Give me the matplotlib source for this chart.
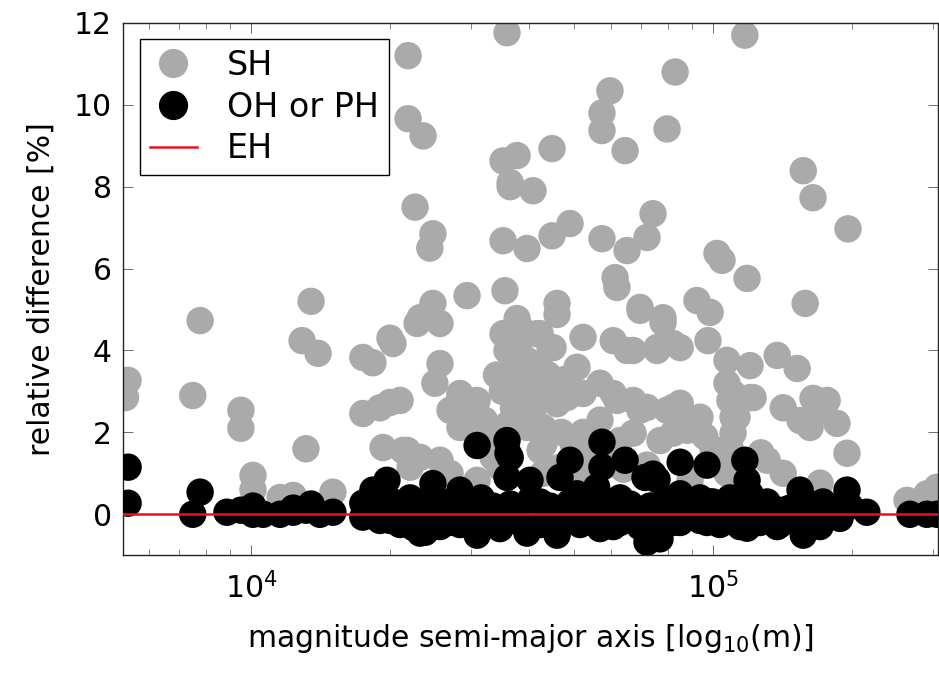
import matplotlib
matplotlib.use("Agg")
import matplotlib.pyplot as plt
from matplotlib.ticker import LogLocator, NullFormatter, MultipleLocator
from matplotlib.lines import Line2D

# SH (grey) points: semi-major axis [m], relative difference [%]
sh_x = [5420, 5350, 7480, 7760, 9510, 9510, 10100, 10100, 13490, 12900,
        13970, 13150, 11560, 12340, 15040, 17460, 18360, 19990, 20290, 17460,
        19010, 19990, 19310, 21330, 22100, 22650, 24760, 24380, 22880, 24760,
        25650, 29350, 25650, 25000, 28330, 30860, 35120, 35460, 36390, 21880,
        21880, 23580, 35820, 82780, 59840, 57500, 57500, 64510, 79530, 44830,
        35120, 37660, 36390, 40770, 39570, 44830, 49040, 57500, 65150, 71960,
        74160, 61380, 61940, 23230, 45960, 45960, 69510, 77950, 37660, 117200,
        156800, 164600, 196000, 102000, 104600, 118500, 69510, 77950, 84900, 75650,
        65150, 60820, 92300, 98560, 97520, 158300, 52330, 50770, 36940, 41570,
        44390, 38230, 107200, 120300, 137700, 152100, 110500, 120300, 141900, 164600,
        176600, 185500, 159700, 45060, 49770, 56940, 61940, 69510, 81960, 93700,
        110500, 39570, 40770, 38230, 35120, 38230, 42250, 45060, 35820, 39570,
        42250, 38230, 67160, 75650, 81960, 28330, 26970, 28330, 29350, 21020,
        40770, 40770, 39570, 42890, 45960, 48310, 52330, 60820, 67160, 71960,
        79530, 84900, 21780, 23230, 25650, 33410, 42250, 49770, 62930, 67160,
        76780, 42890, 46650, 34600, 30860, 26970, 81960, 107200, 108800, 112700,
        122100, 110500, 154300, 167900, 173000, 162200, 195000, 84000, 87870, 81960,
        108800, 105100, 131000, 141900, 89180, 107200, 170500, 290400, 305400, 263000,
        52330, 56940, 54000, 47000, 36000, 33000, 37000, 35000, 34000, 37000,
        41000, 44000, 48000, 53000, 58000, 64000, 72000, 100000, 96000, 127000,
        31000, 32000, 43000, 51000, 62000]
sh_y = [3.27, 2.85, 2.90, 4.73, 2.54, 2.10, 0.95, 0.60, 5.20, 4.24,
        3.93, 1.60, 0.41, 0.46, 0.54, 3.83, 3.70, 4.30, 4.17, 2.46,
        2.60, 2.73, 1.63, 1.56, 1.15, 7.50, 6.85, 6.50, 4.66, 5.15,
        4.66, 5.34, 3.68, 3.20, 2.85, 2.78, 6.68, 5.46, 8.00, 11.20,
        9.66, 9.24, 11.76, 10.80, 10.34, 9.80, 9.37, 8.88, 9.41, 8.93,
        8.63, 8.76, 8.10, 7.90, 6.49, 6.80, 7.10, 6.73, 6.44, 6.76,
        7.34, 5.78, 5.54, 4.80, 5.15, 4.88, 5.05, 4.80, 4.78, 11.70,
        8.39, 7.73, 6.97, 6.37, 6.20, 5.76, 4.98, 4.68, 4.07, 4.07,
        4.00, 4.24, 5.22, 4.93, 4.24, 5.15, 4.32, 3.59, 4.49, 4.41,
        4.07, 3.93, 3.76, 3.63, 3.88, 3.56, 2.95, 2.85, 2.60, 2.83,
        2.78, 2.22, 2.29, 2.78, 2.95, 3.20, 2.78, 2.54, 2.49, 2.37,
        2.37, 3.59, 2.78, 3.17, 4.41, 4.56, 4.41, 4.07, 4.00, 3.76,
        3.59, 3.51, 4.00, 4.00, 4.17, 2.95, 2.54, 2.12, 2.46, 2.78,
        2.95, 2.54, 2.12, 2.12, 2.70, 2.85, 2.95, 2.95, 2.78, 2.61,
        2.54, 2.71, 1.56, 1.39, 1.32, 1.39, 1.56, 1.73, 1.80, 1.98,
        1.80, 1.00, 1.15, 1.15, 0.83, 1.00, 2.61, 3.20, 2.78, 2.37,
        2.85, 1.98, 2.29, 2.78, 2.54, 2.12, 1.49, 2.22, 2.05, 1.98,
        1.63, 1.32, 1.32, 1.00, 0.83, 1.00, 0.76, 0.50, 0.66, 0.34,
        2.00, 2.30, 1.60, 2.00, 2.20, 1.80, 2.60, 3.00, 3.40, 3.90,
        3.30, 3.40, 3.30, 1.30, 1.40, 1.10, 1.20, 1.60, 1.90, 1.50,
        1.90, 2.30, 1.70, 1.10, 1.20]

# OH or PH (black) points
oh_x = [5420, 5420, 7760, 7480, 8870, 9510, 10100, 10620, 11560, 12340,
        13150, 14100, 15040, 10100, 12340, 13490, 17460, 18360, 19690, 17460,
        19990, 21330, 22430, 23230, 20290, 21020, 22100, 22880, 23820, 24380,
        24760, 25650, 26970, 26970, 28330, 29350, 30860, 30860, 31500, 33410,
        34600, 35820, 36390, 40170, 39570, 42250, 46650, 45960, 48310, 50770,
        52330, 56000, 57500, 60820, 62930, 64510, 71250, 75650, 69510, 71960,
        74160, 76780, 79530, 81960, 84900, 89180, 93700, 97050, 100000, 104600,
        108800, 112700, 118500, 120300, 125000, 131000, 137700, 141900, 154300, 156800,
        150000, 162200, 167900, 173000, 180000, 195000, 215300, 266800, 290400, 305400,
        30860, 35820, 36000, 36390, 57500, 57500, 49040, 64510, 84900, 97050,
        117200, 118500, 74160,
        18100, 19010, 19990, 21020, 22100, 23230, 24380, 25650, 26970, 28330,
        29790, 31320, 32920, 34600, 36390, 38230, 40200, 42250, 44390, 46650,
        49040, 51540, 54180, 56940, 59840, 62930, 66130, 69510, 73060, 76780,
        80710, 84900, 89180, 93700, 98560, 103500, 108800, 114400, 120300, 126400,
        132800, 139600, 146800, 154300, 162200, 170500, 179100, 188300, 198000]
oh_y = [1.15, 0.27, 0.54, 0.00, 0.05, 0.10, 0.00, 0.00, 0.00, 0.05,
        0.10, 0.00, 0.05, 0.20, 0.15, 0.25, 0.27, 0.59, 0.83, -0.07,
        -0.15, 0.17, -0.32, -0.46, 0.30, 0.00, 0.40, 0.10, -0.44, 0.20,
        0.75, 0.00, 0.30, -0.20, 0.59, -0.10, -0.51, 0.10, 0.40, 0.20,
        -0.30, 0.90, 0.00, 0.83, -0.46, 0.30, 0.90, -0.51, 0.10, 0.50,
        -0.20, 0.66, 0.20, -0.30, 0.40, 0.00, 0.90, 0.85, -0.30, -0.68,
        0.20, -0.60, 0.30, -0.20, 0.50, 0.10, 0.40, -0.20, 0.30, 0.00,
        0.40, -0.20, -0.34, 0.50, 0.10, 0.30, -0.30, 0.10, 0.59, -0.51,
        0.00, 0.20, -0.10, 0.30, 0.10, 0.59, 0.05, 0.00, 0.00, 0.00,
        1.68, 1.80, 1.49, 1.39, 1.76, 1.15, 1.32, 1.32, 1.27, 1.20,
        1.32, 0.83, 0.98,
        0.15, -0.15, 0.25, -0.25, 0.15, -0.20, 0.25, -0.30, 0.15, -0.25,
        0.30, -0.20, 0.15, -0.35, 0.25, -0.20, 0.35, -0.25, 0.20, -0.30,
        0.30, -0.25, 0.20, -0.35, 0.30, -0.20, 0.25, -0.30, 0.20, -0.25,
        0.30, -0.20, 0.25, -0.15, 0.30, -0.25, 0.20, -0.30, 0.25, -0.20,
        0.20, -0.25, 0.15, -0.20, 0.25, -0.30, 0.15, -0.10, 0.20]

eh_y = 0.0
labels = ["SH", "OH or PH", "EH"]

plt.rcParams['font.family'] = ['DejaVu Sans']
fig = plt.figure(figsize=(9.39, 6.73), dpi=100)
ax = fig.add_axes([0.131, 0.175, 0.868, 0.791])

ms = 390
ax.scatter(sh_x, sh_y, s=ms, color='#aaaaaa', edgecolors='none', zorder=2)
ax.scatter(oh_x, oh_y, s=ms, color='black', edgecolors='none', zorder=3)
ax.axhline(eh_y, color='#e8141c', lw=1.8, zorder=4)

ax.set_xscale('log')
ax.set_xlim(5284, 307000)
ax.set_ylim(-1, 12)
ax.yaxis.set_major_locator(MultipleLocator(2))
ax.xaxis.set_major_locator(LogLocator(base=10, numticks=10))
ax.xaxis.set_minor_locator(LogLocator(base=10, subs=range(2, 10), numticks=20))
ax.xaxis.set_minor_formatter(NullFormatter())

ax.tick_params(which='both', direction='in', top=True, right=True,
               labelsize=21.5, color='#555555')
ax.tick_params(axis='x', which='major', pad=12)
ax.tick_params(axis='y', which='major', pad=8)
ax.tick_params(which='major', length=7, width=0.6)
ax.tick_params(which='minor', length=4, width=0.5)
for sp in ax.spines.values():
    sp.set_linewidth(1.0)
    sp.set_color('#222222')

ax.set_xlabel('magnitude semi-major axis [log$_{10}$(m)]', fontsize=21.5, labelpad=13)
ax.set_ylabel('relative difference [%]', fontsize=21.5, labelpad=13)

handles = [
    Line2D([], [], marker='o', ls='none', color='#aaaaaa', markersize=20),
    Line2D([], [], marker='o', ls='none', color='black', markersize=20),
    Line2D([], [], color='#e8141c', lw=1.8),
]
leg = ax.legend(handles, labels, loc='upper left', fontsize=24, frameon=True,
                fancybox=False, edgecolor='black', framealpha=1,
                borderpad=0.3, labelspacing=0.26, handletextpad=0.9,
                handlelength=1.4, borderaxespad=0,
                bbox_to_anchor=(0.021, 0.970))
leg.get_frame().set_linewidth(1.0)

fig.savefig('out.png', dpi=100)
